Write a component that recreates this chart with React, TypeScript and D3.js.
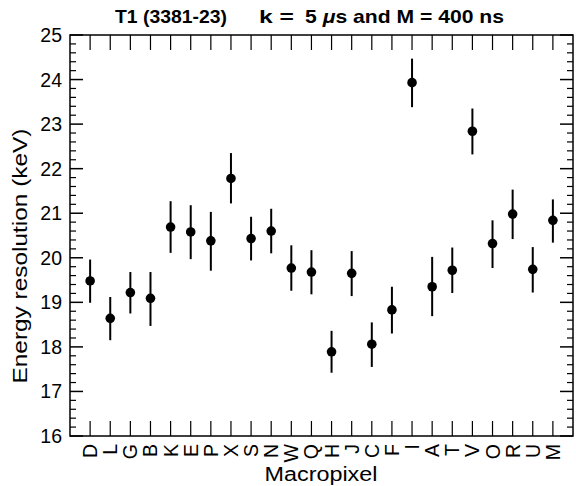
import React from "react";
import * as d3 from "d3";

const categories = ["D","L","G","B","K","E","P","X","S","N","W","Q","H","J","C","F","I","A","T","V","O","R","U","M"];
const values = [19.48,18.64,19.22,19.09,20.69,20.58,20.38,21.78,20.43,20.6,19.77,19.68,17.89,19.65,18.06,18.83,23.93,19.35,19.72,22.84,20.32,20.98,19.74,20.84];
const lows = [18.99,18.15,18.75,18.47,20.11,19.97,19.71,21.22,19.94,20.1,19.26,19.18,17.42,19.14,17.55,18.3,23.38,18.69,19.21,22.32,19.77,20.42,19.22,20.34];
const highs = [19.96,19.12,19.68,19.68,21.27,21.18,21.03,22.35,20.92,21.1,20.28,20.17,18.36,20.15,18.55,19.35,24.47,20.02,20.23,23.35,20.84,21.53,20.24,21.31];
const yTicks = [16,17,18,19,20,21,22,23,24,25];

const W = 576, H = 486;
const L = 70, R = 573, T = 35, B = 436;
const FONT = "'Liberation Sans', Arial, Helvetica, sans-serif";

export default function App() {
  const x = d3.scaleLinear().domain([0, categories.length + 1]).range([L, R]);
  const y = d3.scaleLinear().domain([16, 25]).range([B, T]);
  const minor = d3.range(16, 25.0001, 0.2).map(v => Math.round(v * 10) / 10).filter(v => !yTicks.includes(v));
  const majorLen = 13, minorLen = 6, catLen = 15;
  return (
    <svg width={W} height={H} style={{ position: "absolute", left: 0, top: 0 }} fontFamily={FONT}>
      <rect x={0} y={0} width={W} height={H} fill="white" />
      {/* title */}
      <text x={115} y={23} fontSize={19} fontWeight="bold" fill="#000" textLength={112} lengthAdjust="spacingAndGlyphs">T1 (3381-23)</text>
      <text x={259} y={23} fontSize={19} fontWeight="bold" fill="#000" textLength={35} lengthAdjust="spacingAndGlyphs">k =</text>
      <text x={305} y={23} fontSize={19} fontWeight="bold" fill="#000" textLength={199} lengthAdjust="spacingAndGlyphs">5 <tspan fontStyle="italic">μ</tspan>s and M = 400 ns</text>
      {/* frame */}
      <rect x={L} y={T} width={R - L} height={B - T} fill="none" stroke="#000" strokeWidth={1.5} />
      {/* y ticks */}
      {yTicks.map(v => (
        <g key={"yt" + v}>
          <line x1={L} x2={L + majorLen} y1={y(v)} y2={y(v)} stroke="#000" strokeWidth={1.5} />
          <line x1={R} x2={R - majorLen} y1={y(v)} y2={y(v)} stroke="#000" strokeWidth={1.5} />
          <text x={62} y={y(v) + 7} fontSize={19.5} textAnchor="end" fill="#000">{v}</text>
        </g>
      ))}
      {minor.map(v => (
        <g key={"ym" + v}>
          <line x1={L} x2={L + minorLen} y1={y(v)} y2={y(v)} stroke="#000" strokeWidth={1.2} />
          <line x1={R} x2={R - minorLen} y1={y(v)} y2={y(v)} stroke="#000" strokeWidth={1.2} />
        </g>
      ))}
      {/* x ticks and labels */}
      {categories.map((c, i) => (
        <g key={"xt" + c}>
          <line x1={x(i + 1)} x2={x(i + 1)} y1={T} y2={T + catLen} stroke="#000" strokeWidth={1.2} />
          <line x1={x(i + 1)} x2={x(i + 1)} y1={B} y2={B - catLen} stroke="#000" strokeWidth={1.2} />
          <text transform={`translate(${x(i + 1) + 7},${444}) rotate(-90)`} fontSize={19.5} textAnchor="end" fill="#000">{c}</text>
        </g>
      ))}
      {/* data */}
      {categories.map((c, i) => (
        <g key={"d" + c}>
          <line x1={x(i + 1)} x2={x(i + 1)} y1={y(lows[i])} y2={y(highs[i])} stroke="#000" strokeWidth={2} />
          <circle cx={x(i + 1)} cy={y(values[i])} r={4.8} fill="#000" />
        </g>
      ))}
      {/* axis titles */}
      <text x={321} y={481} fontSize={20} textAnchor="middle" fill="#000" textLength={113} lengthAdjust="spacingAndGlyphs">Macropixel</text>
      <text transform={`translate(${27},${256}) rotate(-90)`} fontSize={20} textAnchor="middle" fill="#000" textLength={255} lengthAdjust="spacingAndGlyphs">Energy resolution (keV)</text>
    </svg>
  );
}
